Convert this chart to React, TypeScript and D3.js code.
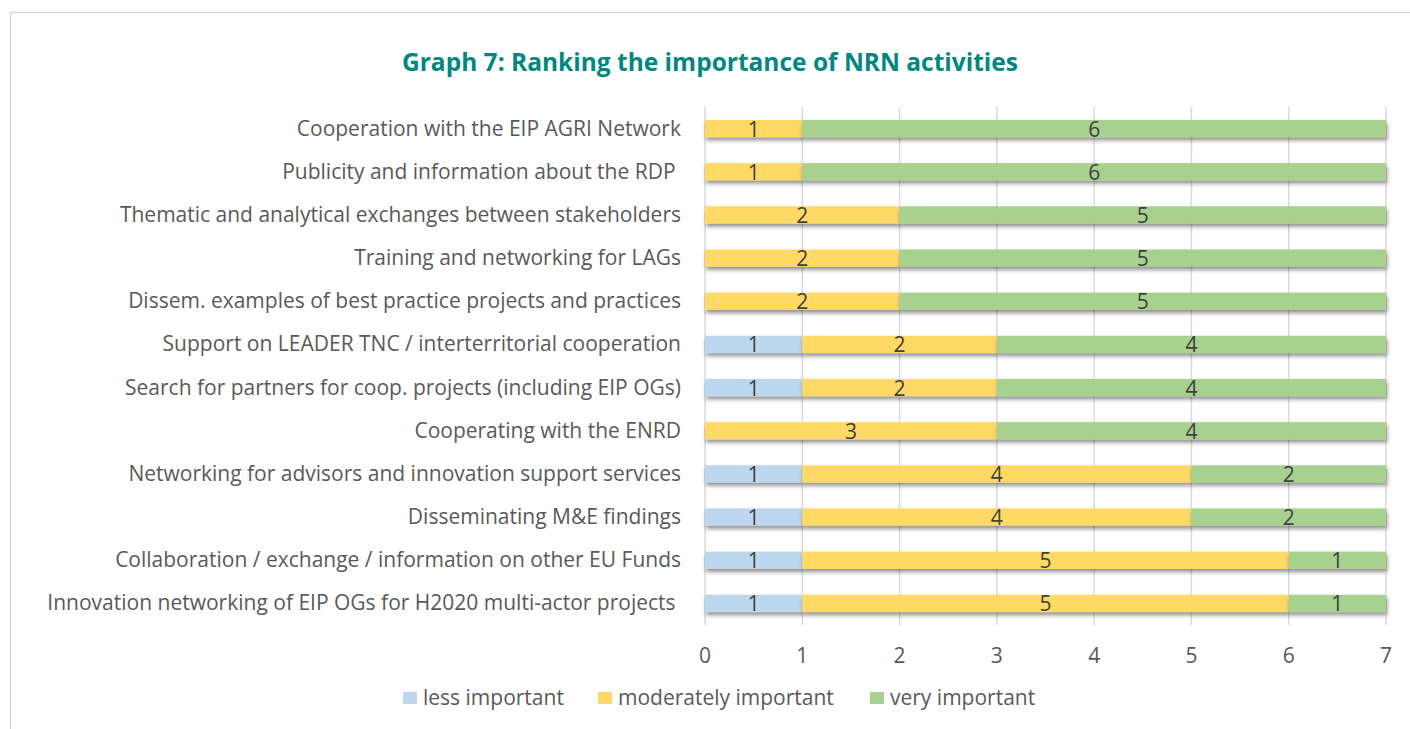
import React from 'react';
import * as d3 from 'd3';

const categories = [
  'Cooperation with the EIP AGRI Network',
  'Publicity and information about the RDP ',
  'Thematic and analytical exchanges between stakeholders',
  'Training and networking for LAGs',
  'Dissem. examples of best practice projects and practices',
  'Support on LEADER TNC / interterritorial cooperation',
  'Search for partners for coop. projects (including EIP OGs)',
  'Cooperating with the ENRD',
  'Networking for advisors and innovation support services',
  'Disseminating M&E findings',
  'Collaboration / exchange / information on other EU Funds',
  'Innovation networking of EIP OGs for H2020 multi-actor projects ',
];

const lessImportant = [0, 0, 0, 0, 0, 1, 1, 0, 1, 1, 1, 1];
const moderatelyImportant = [1, 1, 2, 2, 2, 2, 2, 3, 4, 4, 5, 5];
const veryImportant = [6, 6, 5, 5, 5, 4, 4, 4, 2, 2, 1, 1];

const seriesNames = ['less important', 'moderately important', 'very important'];
const seriesColors = ['#bdd7ee', '#ffd966', '#a9d18e'];
const xTicks = [0, 1, 2, 3, 4, 5, 6, 7];

const W = 1410;
const H = 729;
const FONT = '"Open Sans", Lato, sans-serif';

export default function App() {
  const table = categories.map((name, i) => ({
    name,
    less: lessImportant[i],
    moderate: moderatelyImportant[i],
    very: veryImportant[i],
  }));
  const keys = ['less', 'moderate', 'very'];
  const stacked = d3.stack<any>().keys(keys)(table);

  const x = d3.scaleLinear().domain([0, 7]).range([705, 1386]);
  const y = d3.scaleBand().domain(categories).range([107, 625]).paddingInner(0.6).paddingOuter(0.3);

  return (
    <div style={{ position: 'absolute', left: 0, top: 0 }}>
      <svg width={W} height={H} style={{ display: 'block', fontFamily: FONT }}>
        <defs>
          <filter id="shadow" x="-5%" y="-50%" width="110%" height="250%">
            <feDropShadow dx="1" dy="3" stdDeviation="2" floodColor="#000" floodOpacity="0.45" />
          </filter>
        </defs>
        <rect x={0} y={0} width={W} height={H} fill="#fff" />
        <rect x={10.5} y={12.5} width={W + 20} height={H + 20} fill="none" stroke="#d9d9d9" strokeWidth={1.5} />

        <text x={710} y={71} textAnchor="middle" fontSize={24.5} fontWeight="bold" fill="#00877f">
          Graph 7: Ranking the importance of NRN activities
        </text>

        {xTicks.map((t) => (
          <line key={t} x1={x(t)} x2={x(t)} y1={107} y2={625} stroke="#d9d9d9" strokeWidth={1.5} />
        ))}

        {stacked.map((layer, li) => (
          <g key={layer.key} fill={seriesColors[li]}>
            {layer.map((d, i) =>
              d[1] - d[0] > 0 ? (
                <rect
                  key={i}
                  x={x(d[0])}
                  y={y(categories[i])}
                  width={x(d[1]) - x(d[0])}
                  height={y.bandwidth()}
                  filter="url(#shadow)"
                />
              ) : null
            )}
          </g>
        ))}

        {stacked.map((layer) => (
          <g key={layer.key + '-lbl'}>
            {layer.map((d, i) =>
              d[1] - d[0] > 0 ? (
                <text
                  key={i}
                  x={(x(d[0]) + x(d[1])) / 2}
                  y={(y(categories[i]) as number) + y.bandwidth() / 2 + 8}
                  textAnchor="middle"
                  fontSize={21}
                  fill="#404040"
                >
                  {d[1] - d[0]}
                </text>
              ) : null
            )}
          </g>
        ))}

        {categories.map((c) => (
          <text
            key={c}
            x={681}
            y={(y(c) as number) + y.bandwidth() / 2 + 7}
            textAnchor="end"
            fontSize={21}
            fill="#595959"
            style={{ whiteSpace: 'pre' }}
          >
            {c}
          </text>
        ))}

        {xTicks.map((t) => (
          <text key={t} x={x(t)} y={663} textAnchor="middle" fontSize={21} fill="#595959">
            {t}
          </text>
        ))}

        <g>
          {seriesNames.map((s, i) => {
            const lx = [403, 598, 870][i];
            return (
              <g key={s}>
                <rect x={lx} y={692} width={14} height={12} fill={seriesColors[i]} />
                <text x={lx + 20} y={705} fontSize={21} fill="#595959">
                  {s}
                </text>
              </g>
            );
          })}
        </g>
      </svg>
    </div>
  );
}
